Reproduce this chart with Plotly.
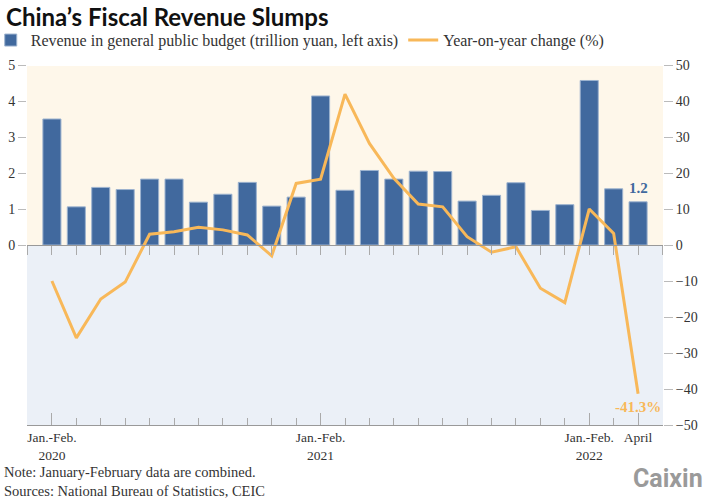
import plotly.graph_objects as go

categories = (["2020 Jan.-Feb."] + [f"2020 M{m}" for m in range(3, 13)]
              + ["2021 Jan.-Feb."] + [f"2021 M{m}" for m in range(3, 13)]
              + ["2022 Jan.-Feb.", "2022 M3", "2022 April"])
revenue = [3.50, 1.06, 1.60, 1.54, 1.83, 1.83, 1.19, 1.41, 1.74, 1.08, 1.33,
           4.14, 1.52, 2.07, 1.83, 2.05, 2.04, 1.22, 1.38, 1.73, 0.96, 1.12,
           4.57, 1.56, 1.20]
yoy = [-10.0, -25.8, -15.0, -10.3, 3.0, 3.7, 4.9, 4.2, 2.8, -3.0, 17.1,
       18.3, 41.9, 28.2, 18.5, 11.4, 10.6, 2.3, -2.0, -0.5, -12.0, -16.0,
       10.0, 3.2, -41.3]
major_ticks = ["2020 Jan.-Feb.", "2021 Jan.-Feb.", "2022 Jan.-Feb.", "2022 April"]
major_text = ["Jan.-Feb.<br>2020", "Jan.-Feb.<br>2021", "Jan.-Feb.<br>2022", "April<br> "]
left_ticks = [0, 1, 2, 3, 4, 5]
right_ticks = [-50, -40, -30, -20, -10, 0, 10, 20, 30, 40, 50]
footnotes = ["Note: January-February data are combined.",
             "Sources: National Bureau of Statistics, CEIC"]

xs = list(range(len(categories)))
idx = {c: i for i, c in enumerate(categories)}

BLUE = "#41699E"
ORANGE = "#F8B859"
SERIF = "Liberation Serif"

fig = go.Figure()
fig.add_trace(go.Bar(x=xs, y=revenue, name="Revenue in general public budget (trillion yuan, left axis)",
                     marker=dict(color=BLUE, line=dict(color="#9DB3CF", width=1)),
                     width=0.74, yaxis="y"))
fig.add_trace(go.Scatter(x=xs, y=yoy, name="Year-on-year change (%)", mode="lines",
                         line=dict(color=ORANGE, width=3), yaxis="y2"))

xr = [-1.02, len(categories) - 1 + 1.02]
fig.update_layout(
    width=706, height=500,
    margin=dict(l=27, r=43, t=65, b=75, autoexpand=False),
    paper_bgcolor="white", plot_bgcolor="rgba(0,0,0,0)",
    font=dict(family=SERIF, size=14, color="#333"),
    showlegend=True,
    legend=dict(orientation="h", x=-0.057, y=1.069, xanchor="left", yanchor="middle",
                font=dict(family=SERIF, size=16, color="#333"),
                bgcolor="rgba(0,0,0,0)", itemwidth=30, tracegroupgap=0),
    bargap=0.26,
    xaxis=dict(range=xr, showgrid=False, zeroline=False,
               tickmode="array", tickvals=[idx[c] for c in major_ticks], ticktext=major_text,
               ticks="inside", ticklen=12, tickcolor="#AAA", tickwidth=1,
               showline=True, linecolor="#999", linewidth=1,
               tickfont=dict(family=SERIF, size=13.5, color="#333"),
               minor=dict(tickmode="linear", tick0=0, dtick=1, ticks="inside",
                          ticklen=7, tickcolor="#AAA")),
    xaxis2=dict(range=xr, overlaying="x", anchor="free", position=0.5, side="bottom",
                showgrid=False, zeroline=False, showticklabels=False,
                tickmode="linear", tick0=0, dtick=1, ticks="outside", ticklen=9,
                tickcolor="#AAA", showline=True, linecolor="#999", linewidth=1),
    yaxis=dict(range=[-5, 5], tickvals=left_ticks, showgrid=False, zeroline=False,
               ticks="outside", ticklen=8, tickcolor="#BBB",
               tickfont=dict(family=SERIF, size=14, color="#333")),
    yaxis2=dict(range=[-50, 50], tickvals=right_ticks, overlaying="y", side="right",
                showgrid=False, zeroline=False, ticks="outside", ticklen=9, tickcolor="#BBB",
                tickfont=dict(family=SERIF, size=14, color="#333")),
)
# invisible trace so the zero-line tick axis renders
fig.add_trace(go.Scatter(x=[xs[0]], y=[0], xaxis="x2", yaxis="y", mode="markers",
                         marker=dict(opacity=0), showlegend=False, hoverinfo="skip"))

fig.add_shape(type="rect", xref="paper", yref="y", x0=0, x1=1, y0=0, y1=4.97,
              fillcolor="#FEF7EA", line_width=0, layer="below")
fig.add_shape(type="rect", xref="paper", yref="y", x0=0, x1=1, y0=-5, y1=0,
              fillcolor="#EBF0F7", line_width=0, layer="below")

fig.add_annotation(x=xs[-1], y=revenue[-1], yref="y", text=f"<b>{revenue[-1]:.1f}</b>",
                   showarrow=False, yshift=14, font=dict(family=SERIF, size=15, color=BLUE))
fig.add_annotation(x=xs[-1], y=yoy[-1], yref="y2", text=f"<b>{yoy[-1]:.1f}%</b>",
                   showarrow=False, yshift=-13, font=dict(family=SERIF, size=15, color=ORANGE))

fig.add_annotation(xref="paper", yref="paper", x=-0.036, y=1.136, xanchor="left", yanchor="middle",
                   text="<b>China’s Fiscal Revenue Slumps</b>", showarrow=False,
                   font=dict(family="Lato", size=24, color="#111"))
fig.add_annotation(xref="paper", yref="paper", x=-0.038, y=-0.156, xanchor="left", yanchor="middle",
                   align="left", text="<br>".join(footnotes), showarrow=False, borderpad=0,
                   font=dict(family=SERIF, size=14.5, color="#333"))
fig.add_annotation(xref="paper", yref="paper", x=1.066, y=-0.148, xanchor="right", yanchor="middle",
                   text="<b>Caixin</b>", showarrow=False,
                   font=dict(family="Roboto", size=25, color="#9A9A9A"))

fig.write_html("out.html")
